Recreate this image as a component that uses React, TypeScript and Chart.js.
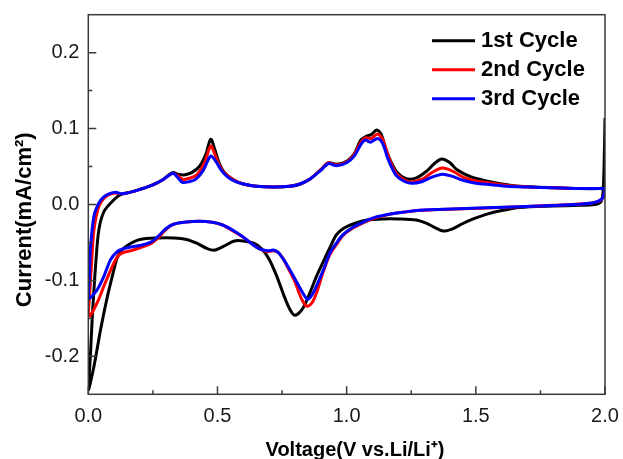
import { useEffect, useRef } from 'react';
import { Chart, registerables } from 'chart.js';

Chart.register(...registerables);

const seriesLabels = ['1st Cycle', '2nd Cycle', '3rd Cycle'];
const seriesColors = ['#000000', '#ff0000', '#0000ff'];

const xTicks = [0, 0.5, 1.0, 1.5, 2.0];
const yTicks = [-0.2, -0.1, 0.0, 0.1, 0.2];
const xMinorTicks = [0.25, 0.75, 1.25, 1.75];
const yMinorTicks = [-0.15, -0.05, 0.05, 0.15];

// 1st cycle: cathodic sweep (2.0 -> 0) followed by anodic sweep (0 -> 2.0)
const cycle1Voltage = [
  2.0, 1.997, 1.993, 1.985, 1.96, 1.9, 1.8, 1.67, 1.6, 1.54, 1.49, 1.45, 1.41, 1.374, 1.345, 1.31, 1.27, 1.2, 1.14,
  1.08, 1.03, 0.99, 0.96, 0.935, 0.91, 0.884, 0.858, 0.83, 0.8, 0.78, 0.755, 0.729, 0.7, 0.67, 0.64, 0.6, 0.565,
  0.53, 0.49, 0.46, 0.42, 0.38, 0.33, 0.27, 0.2, 0.16, 0.13, 0.112, 0.099, 0.074, 0.048, 0.022, 0.0,
  0.008, 0.015, 0.029, 0.041, 0.061, 0.1, 0.125, 0.16, 0.2, 0.25, 0.29, 0.315, 0.33, 0.345, 0.37, 0.4, 0.43, 0.455,
  0.474, 0.49, 0.505, 0.525, 0.56, 0.6, 0.65, 0.72, 0.78, 0.82, 0.86, 0.9, 0.93, 0.96, 1.0, 1.03, 1.055, 1.077,
  1.095, 1.116, 1.133, 1.15, 1.168, 1.194, 1.23, 1.27, 1.31, 1.34, 1.368, 1.4, 1.426, 1.477, 1.54, 1.6, 1.67, 1.8,
  1.9, 1.98, 2.0,
];
const cycle1Current = [
  0.114, 0.06, 0.02, 0.004, 0.0, -0.001, -0.002, -0.004, -0.008, -0.013, -0.019, -0.025, -0.032, -0.035, -0.031,
  -0.025, -0.0205, -0.019, -0.019, -0.0205, -0.025, -0.031, -0.04, -0.057, -0.075, -0.094, -0.116, -0.137, -0.146,
  -0.138, -0.118, -0.094, -0.072, -0.058, -0.051, -0.048, -0.048, -0.054, -0.06, -0.058, -0.051, -0.046, -0.044,
  -0.044, -0.046, -0.052, -0.06, -0.07, -0.086, -0.121, -0.164, -0.213, -0.244,
  -0.2, -0.151, -0.077, -0.033, -0.009, 0.0066, 0.013, 0.016, 0.02, 0.026, 0.033, 0.04, 0.042, 0.04, 0.039, 0.042,
  0.05, 0.066, 0.086, 0.072, 0.056, 0.043, 0.033, 0.027, 0.024, 0.023, 0.024, 0.027, 0.034, 0.046, 0.055, 0.053,
  0.057, 0.067, 0.085, 0.09, 0.092, 0.098, 0.093, 0.075, 0.059, 0.043, 0.034, 0.035, 0.044, 0.054, 0.06, 0.055,
  0.046, 0.037, 0.031, 0.027, 0.024, 0.022, 0.021, 0.021, 0.022,
];

// 2nd cycle
const cycle2Voltage = [
  2.0, 1.995, 1.985, 1.95, 1.8, 1.54, 1.29, 1.2, 1.14, 1.1, 1.06, 1.02, 0.985, 0.96, 0.935, 0.91, 0.884, 0.865,
  0.845, 0.825, 0.8, 0.775, 0.755, 0.735, 0.716, 0.69, 0.66, 0.63, 0.6, 0.56, 0.52, 0.48, 0.43, 0.38, 0.33, 0.3,
  0.27, 0.24, 0.2, 0.164, 0.13, 0.112, 0.087, 0.061, 0.035, 0.01, 0.0,
  0.005, 0.013, 0.022, 0.041, 0.06, 0.08, 0.105, 0.13, 0.16, 0.2, 0.25, 0.29, 0.315, 0.33, 0.35, 0.367, 0.395, 0.42,
  0.45, 0.474, 0.49, 0.505, 0.525, 0.56, 0.6, 0.65, 0.72, 0.78, 0.82, 0.86, 0.9, 0.93, 0.96, 1.0, 1.03, 1.055,
  1.075, 1.095, 1.12, 1.14, 1.16, 1.19, 1.24, 1.29, 1.33, 1.37, 1.41, 1.45, 1.5, 1.56, 1.62, 1.7, 1.8, 1.9, 1.98,
  2.0,
];
const cycle2Current = [
  0.021, 0.012, 0.006, 0.002, -0.001, -0.0045, -0.0075, -0.011, -0.015, -0.019, -0.025, -0.032, -0.041, -0.053,
  -0.066, -0.088, -0.116, -0.13, -0.134, -0.124, -0.102, -0.085, -0.072, -0.063, -0.061, -0.062, -0.058, -0.051,
  -0.043, -0.035, -0.027, -0.0235, -0.022, -0.023, -0.026, -0.033, -0.044, -0.052, -0.057, -0.061, -0.064, -0.069,
  -0.086, -0.107, -0.129, -0.145, -0.147,
  -0.12, -0.075, -0.033, -0.002, 0.008, 0.013, 0.015, 0.014, 0.016, 0.02, 0.026, 0.033, 0.039, 0.041, 0.037, 0.033,
  0.035, 0.039, 0.055, 0.077, 0.066, 0.053, 0.042, 0.033, 0.027, 0.024, 0.023, 0.024, 0.027, 0.034, 0.046, 0.055,
  0.052, 0.056, 0.066, 0.082, 0.088, 0.087, 0.093, 0.085, 0.065, 0.042, 0.03, 0.033, 0.042, 0.048, 0.044, 0.036,
  0.031, 0.028, 0.025, 0.023, 0.022, 0.021, 0.021, 0.021,
];

// 3rd cycle
const cycle3Voltage = [
  2.0, 1.995, 1.985, 1.953, 1.8, 1.54, 1.284, 1.2, 1.14, 1.1, 1.06, 1.02, 0.985, 0.96, 0.935, 0.91, 0.877, 0.86,
  0.848, 0.826, 0.8, 0.775, 0.755, 0.735, 0.716, 0.695, 0.66, 0.63, 0.6, 0.56, 0.52, 0.48, 0.43, 0.38, 0.33, 0.3,
  0.27, 0.24, 0.2, 0.164, 0.13, 0.112, 0.087, 0.061, 0.035, 0.01, 0.0,
  0.004, 0.009, 0.022, 0.041, 0.06, 0.08, 0.106, 0.13, 0.16, 0.2, 0.25, 0.29, 0.315, 0.33, 0.35, 0.365, 0.39,
  0.415, 0.445, 0.474, 0.495, 0.515, 0.54, 0.57, 0.6, 0.65, 0.72, 0.78, 0.82, 0.86, 0.9, 0.93, 0.96, 1.0, 1.03,
  1.055, 1.072, 1.092, 1.12, 1.14, 1.16, 1.19, 1.22, 1.25, 1.29, 1.33, 1.37, 1.41, 1.45, 1.5, 1.56, 1.62, 1.7,
  1.8, 1.9, 1.98, 2.0,
];
const cycle3Current = [
  0.021, 0.012, 0.0066, 0.002, -0.0013, -0.0044, -0.0075, -0.011, -0.0145, -0.018, -0.024, -0.031, -0.04, -0.051,
  -0.064, -0.086, -0.112, -0.122, -0.125, -0.114, -0.098, -0.083, -0.072, -0.063, -0.06, -0.061, -0.058, -0.051,
  -0.043, -0.034, -0.027, -0.0235, -0.022, -0.023, -0.026, -0.032, -0.042, -0.05, -0.054, -0.056, -0.059, -0.062,
  -0.072, -0.094, -0.112, -0.122, -0.124,
  -0.095, -0.055, -0.015, 0.002, 0.01, 0.014, 0.016, 0.014, 0.016, 0.02, 0.026, 0.033, 0.039, 0.041, 0.034, 0.029,
  0.03, 0.033, 0.045, 0.064, 0.056, 0.045, 0.036, 0.03, 0.027, 0.024, 0.023, 0.024, 0.027, 0.034, 0.045, 0.054,
  0.051, 0.055, 0.064, 0.079, 0.085, 0.082, 0.087, 0.08, 0.06, 0.039, 0.031, 0.028, 0.03, 0.036, 0.04, 0.037,
  0.032, 0.028, 0.026, 0.024, 0.023, 0.022, 0.021, 0.021, 0.021,
];

const cycleVoltages = [cycle1Voltage, cycle2Voltage, cycle3Voltage];
const cycleCurrents = [cycle1Current, cycle2Current, cycle3Current];

const FONT = "'Liberation Sans', Arial, Helvetica, sans-serif";

const framePlugin = {
  id: 'frameTicks',
  afterDatasetsDraw(chart: any) {
    const { ctx, chartArea, scales } = chart;
    const { left, right, top, bottom } = chartArea;
    ctx.save();
    ctx.strokeStyle = '#3a3a3a';
    ctx.lineWidth = 1.5;
    ctx.strokeRect(left, top, right - left, bottom - top);
    ctx.beginPath();
    const xs = scales.x;
    const ys = scales.y;
    xTicks.forEach((v) => {
      const p = xs.getPixelForValue(v);
      ctx.moveTo(p, bottom);
      ctx.lineTo(p, bottom - 8);
    });
    xMinorTicks.forEach((v) => {
      const p = xs.getPixelForValue(v);
      ctx.moveTo(p, bottom);
      ctx.lineTo(p, bottom - 4);
    });
    yTicks.forEach((v) => {
      const p = ys.getPixelForValue(v);
      ctx.moveTo(left, p);
      ctx.lineTo(left + 8, p);
    });
    yMinorTicks.forEach((v) => {
      const p = ys.getPixelForValue(v);
      ctx.moveTo(left, p);
      ctx.lineTo(left + 4, p);
    });
    ctx.stroke();
    ctx.restore();
  },
};

const legendPlugin = {
  id: 'insideLegend',
  afterDraw(chart: any) {
    const { ctx, chartArea } = chart;
    const x0 = chartArea.right - 173;
    const x1 = chartArea.right - 130;
    const tx = chartArea.right - 124;
    ctx.save();
    ctx.font = `bold 22px ${FONT}`;
    ctx.textBaseline = 'alphabetic';
    ctx.textAlign = 'left';
    chart.data.datasets.forEach((ds: any, i: number) => {
      const base = chartArea.top + 32 + 29 * i;
      ctx.strokeStyle = ds.borderColor;
      ctx.lineWidth = 3;
      ctx.beginPath();
      ctx.moveTo(x0, base - 6);
      ctx.lineTo(x1, base - 6);
      ctx.stroke();
      ctx.fillStyle = '#000';
      ctx.fillText(ds.label, tx, base);
    });
    ctx.restore();
  },
};

export default function App() {
  const canvasRef = useRef<HTMLCanvasElement | null>(null);

  useEffect(() => {
    const canvas = canvasRef.current;
    if (!canvas) return;
    const datasets = seriesLabels.map((label, i) => ({
      label,
      data: cycleVoltages[i].map((v, j) => ({ x: v, y: cycleCurrents[i][j] })),
      borderColor: seriesColors[i],
      backgroundColor: seriesColors[i],
      borderWidth: 3,
      pointRadius: 0,
      showLine: true,
      tension: 0.3,
      fill: false,
      order: 2 - i,
    }));
    const chart = new Chart(canvas, {
      type: 'scatter',
      data: { datasets },
      options: {
        animation: false,
        responsive: false,
        maintainAspectRatio: false,
        layout: { padding: { top: 14.7, right: 18, left: 0, bottom: 0 } },
        plugins: {
          legend: { display: false },
          tooltip: { enabled: false },
        },
        scales: {
          x: {
            type: 'linear',
            min: 0,
            max: 2.0,
            afterFit: (scale: any) => {
              scale.height = 64.7;
            },
            afterBuildTicks: (scale: any) => {
              scale.ticks = xTicks.map((v) => ({ value: v }));
            },
            grid: { display: false, drawTicks: true, tickLength: 10 },
            border: { display: false },
            ticks: {
              padding: 0,
              color: '#1a1a1a',
              font: { family: FONT, size: 20 },
              callback: (v: any) => Number(v).toFixed(1),
              maxRotation: 0,
            },
            title: {
              display: true,
              text: '   Voltage(V vs.Li/Li\u207A)',
              color: '#000',
              font: { family: FONT, size: 20, weight: 'bold' },
              padding: { top: 0, bottom: -3 },
            },
          },
          y: {
            type: 'linear',
            min: -0.25,
            max: 0.25,
            afterFit: (scale: any) => {
              scale.width = 88.3;
            },
            afterBuildTicks: (scale: any) => {
              scale.ticks = yTicks.map((v) => ({ value: v }));
            },
            grid: { display: false, drawTicks: true, tickLength: 9 },
            border: { display: false },
            ticks: {
              padding: 0,
              color: '#1a1a1a',
              font: { family: FONT, size: 20 },
              callback: (v: any) => Number(v).toFixed(1),
            },
            title: {
              display: true,
              text: 'Current(mA/cm\u00B2)     ',
              color: '#000',
              font: { family: FONT, size: 22, weight: 'bold' },
              padding: { top: 12, bottom: 0 },
            },
          },
        },
      },
      plugins: [framePlugin, legendPlugin],
    });
    return () => chart.destroy();
  }, []);

  return (
    <div style={{ position: 'fixed', left: 0, top: 0, width: 623, height: 459, background: '#fff' }}>
      <canvas ref={canvasRef} width={623} height={459} />
    </div>
  );
}
